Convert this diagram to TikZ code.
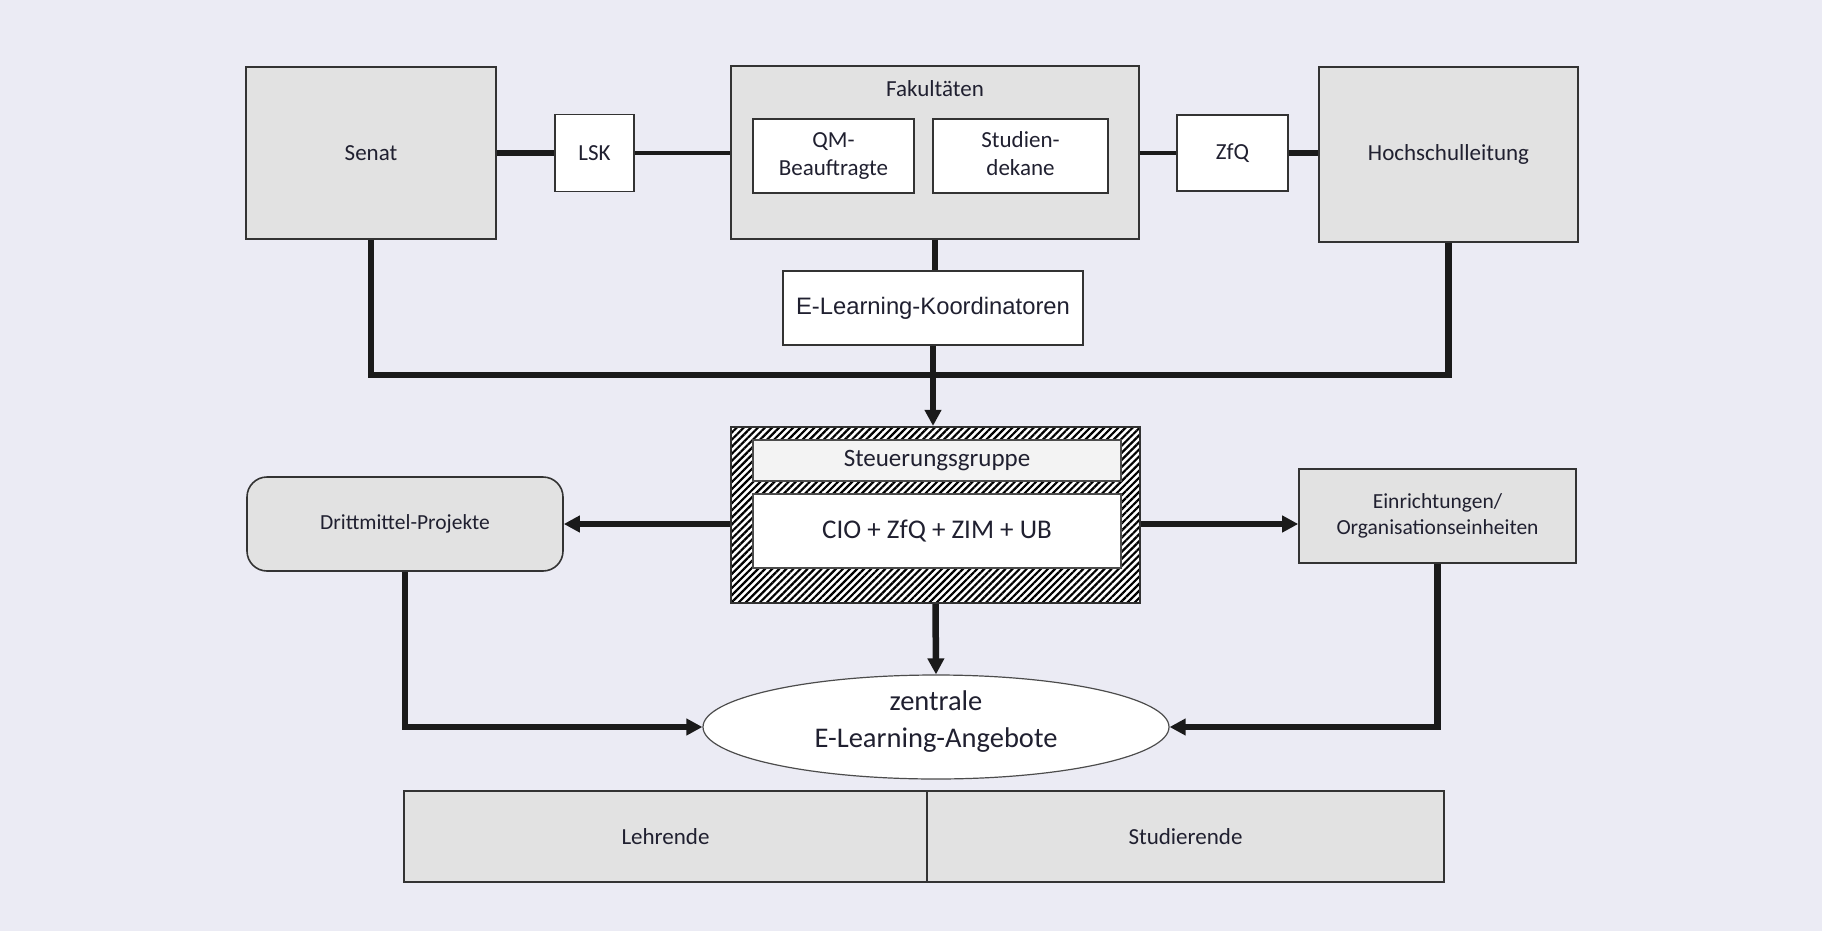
\documentclass[tikz,border=0pt]{standalone}
\usepackage{fontspec}
\setmainfont{Carlito}
\newfontfamily\arialfont{Liberation Sans}
\usetikzlibrary{positioning,shapes.geometric,arrows.meta,patterns.meta}

\definecolor{bgcol}{HTML}{EBEBF4}
\definecolor{boxgray}{HTML}{E2E2E2}
\definecolor{linecol}{HTML}{1A1A1A}
\definecolor{textcol}{HTML}{202030}
\definecolor{headgray}{HTML}{F3F3F3}

\begin{document}
\begin{tikzpicture}[x=1pt,y=-1pt,font=\fontsize{23}{27.5}\selectfont,text=textcol,
    every node/.style={inner sep=0pt},
    gray box/.style={rectangle,draw=black!80,line width=1.6pt,fill=boxgray,align=center},
    white box/.style={rectangle,draw=black!80,line width=1.6pt,fill=white,align=center},
    heavy/.style={draw=linecol,line width=6.5pt},
    light/.style={draw=linecol,line width=4.5pt},
    arr/.style={-{Triangle[length=16pt,width=16pt]}}]
    \fill[bgcol] (0,0) rectangle (1822,931);
    \useasboundingbox (0,0) rectangle (1822,931);

    % upper row
    \node[gray box,minimum width=250pt,minimum height=172pt] (senat) at (371,153) {Senat};
    \node[white box,minimum width=79pt,minimum height=77pt] (lsk) at (594.5,153) {LSK};
    \node[gray box,minimum width=408pt,minimum height=173pt] (fak) at (935,152.5) {};
    \node (faktitle) at (935,89) {Fakultäten};
    \node[white box,minimum width=161pt,minimum height=74pt] (qm) at (833.5,156) {\raisebox{3pt}{\begin{tabular}{@{}c@{}}QM-\\Beauftragte\end{tabular}}};
    \node[white box,minimum width=175pt,minimum height=74pt] (dekane) at (1020.5,156) {\raisebox{3pt}{\begin{tabular}{@{}c@{}}Studien-\\dekane\end{tabular}}};
    \node[white box,minimum width=111pt,minimum height=76pt] (zfq) at (1232.5,153) {ZfQ};
    \node[gray box,minimum width=259pt,minimum height=175pt] (hsl) at (1448.5,154.5) {Hochschulleitung};
    \node[white box,minimum width=300pt,minimum height=74pt,font=\arialfont\fontsize{23.8}{28}\selectfont] (elk) at (933,308) {E-Learning-Koordinatoren};
    \coordinate (bus) at (935,375);

    % steering group
    \node[draw=black!80,line width=1.6pt,minimum width=409pt,minimum height=176pt,preaction={fill=white},
        pattern={Lines[angle=45,distance=5pt,line width=2.2pt]}] (steu) at (935.5,515) {};
    \node[draw=black!70,line width=1.2pt,fill=headgray,minimum width=368pt,minimum height=41pt,font=\fontsize{25}{30}\selectfont] (sgtitle) at (937,460.5) {Steuerungsgruppe};
    \node[draw=black!70,line width=1.2pt,fill=white,minimum width=368pt,minimum height=74pt,font=\fontsize{27}{32}\selectfont] (members) at (937,531) {CIO + ZfQ + ZIM + UB};

    \node[gray box,rounded corners=20pt,minimum width=316pt,minimum height=94pt,font=\fontsize{21.5}{26}\selectfont] (dritt) at (405,524) {Drittmittel-Projekte};
    \node[gray box,minimum width=277pt,minimum height=94pt,font=\fontsize{21.5}{26}\selectfont] (einr) at (1437.5,516) {Einrichtungen/\\Organisationseinheiten};
    \node[ellipse,draw=black!70,line width=1.2pt,fill=white,minimum width=466pt,minimum height=104pt,
        font=\fontsize{28.5}{37}\selectfont] (angebote) at (936,727)
        {\raisebox{-1pt}[0pt][0pt]{\begin{tabular}{@{}c@{}}zentrale\\E-Learning-Angebote\end{tabular}}};

    % target groups
    \node[gray box,minimum width=523pt,minimum height=91pt] (lehrende) at (665.5,836.5) {Lehrende};
    \node[gray box,minimum width=517pt,minimum height=91pt,right=-1.6pt of lehrende] (studierende) {Studierende};

    % connections
    \draw[heavy] (senat) -- (lsk);
    \draw[light] (lsk) -- (lsk -| fak.west);
    \draw[light] (zfq -| fak.east) -- (zfq);
    \draw[heavy] (zfq.east) -- (zfq.east -| hsl.west);
    \draw[heavy] (fak.south) -- (fak.south |- elk.north);
    \draw[heavy] (senat.south) |- (bus) -| (hsl.south);
    \draw[heavy,arr] (elk.south) -- (elk.south |- steu.north);
    \draw[heavy,arr] (steu.west |- dritt) -- (dritt.east);
    \draw[heavy,arr] (steu.east |- dritt) -- (einr.west |- dritt);
    \draw[heavy,arr] (steu.south) -- (angebote.north);
    \draw[heavy,arr] (dritt.south) |- (angebote.west);
    \draw[heavy,arr] (einr.south) |- (angebote.east);
\end{tikzpicture}
\end{document}
